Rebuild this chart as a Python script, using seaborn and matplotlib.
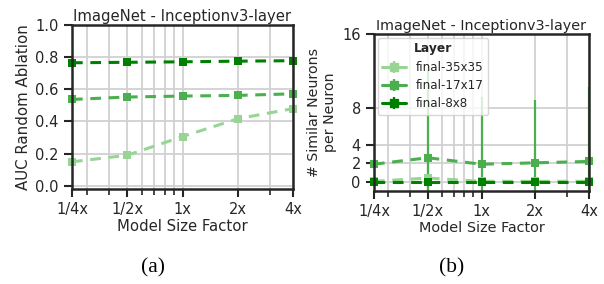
import numpy as np
import pandas as pd
import matplotlib
matplotlib.use("Agg")
import matplotlib.pyplot as plt
import matplotlib.ticker as mticker
import seaborn as sns

# model size factors and labels
sizes = [0.25, 0.5, 1, 2, 4]
size_labels = ["1/4x", "1/2x", "1x", "2x", "4x"]
layers = ["final-35x35", "final-17x17", "final-8x8"]
colors = ["#98d594", "#4bae4f", "#008000"]

# (a) AUC random ablation
auc_35 = [0.149, 0.19, 0.306, 0.417, 0.48]
auc_17 = [0.537, 0.552, 0.558, 0.562, 0.572]
auc_8 = [0.765, 0.768, 0.771, 0.775, 0.778]

# (b) similar neurons per neuron, mean and spread
sim_35 = [0.05, 0.4, 0.05, 0.05, 0.05]
sim_35_err = [0.3, 1.5, 0.3, 0.3, 0.3]
sim_17 = [1.9, 2.6, 1.9, 2.05, 2.2]
sim_17_err = [9.5, 9.5, 7.3, 6.85, 8.1]
sim_8 = [0.0, 0.0, 0.0, 0.0, 0.0]
sim_8_err = [0.05, 0.05, 0.05, 0.05, 0.05]

df_a = pd.DataFrame({
    "size": sizes * 3,
    "value": auc_35 + auc_17 + auc_8,
    "layer": [l for l in layers for _ in sizes],
})
df_b = pd.DataFrame({
    "size": sizes * 3,
    "value": sim_35 + sim_17 + sim_8,
    "err": sim_35_err + sim_17_err + sim_8_err,
    "layer": [l for l in layers for _ in sizes],
})

sns.set_style("whitegrid", {
    "axes.edgecolor": ".15",
    "xtick.bottom": True,
    "ytick.left": True,
    "grid.color": ".82",
})
plt.rcParams.update({
    "font.family": ["DejaVu Sans"],
    "font.size": 10,
    "axes.linewidth": 1.8,
    "xtick.major.size": 6,
    "xtick.minor.size": 4,
    "ytick.major.size": 6,
    "xtick.major.width": 1.5,
    "xtick.minor.width": 1.2,
    "ytick.major.width": 1.5,
    "xtick.labelsize": 10.5,
    "ytick.labelsize": 10.5,
    "grid.linewidth": 1.3,
    "text.color": ".15",
    "axes.labelcolor": ".15",
    "xtick.color": ".15",
    "ytick.color": ".15",
})

fig = plt.figure(figsize=(6.04, 2.84), dpi=100)
ax1 = fig.add_axes([72 / 604, 1 - 189 / 284, 221 / 604, 164 / 284])
ax2 = fig.add_axes([374 / 604, 1 - 191 / 284, 215 / 604, 157 / 284])

pal = dict(zip(layers, colors))


def setup_x(ax, fs):
    ax.set_xscale("log")
    ax.set_xlim(0.25, 4)
    ax.xaxis.set_major_locator(mticker.FixedLocator(sizes))
    ax.xaxis.set_major_formatter(mticker.FixedFormatter(size_labels))
    ax.xaxis.set_minor_locator(mticker.LogLocator(base=10, subs=np.arange(2, 10), numticks=12))
    ax.xaxis.set_minor_formatter(mticker.NullFormatter())
    ax.grid(True, which="both", axis="x")
    ax.grid(True, which="major", axis="y")
    ax.set_xlabel("Model Size Factor", labelpad=1, fontsize=fs)
    ax.set_title("ImageNet - Inceptionv3-layer", fontsize=fs, pad=3)
    for s in ax.spines.values():
        s.set_visible(True)
        s.set_color(".15")


# (a)
sns.lineplot(data=df_a, x="size", y="value", hue="layer", palette=pal,
             marker="s", markersize=6, markeredgewidth=0, linewidth=2.2,
             linestyle="--", dashes=False, legend=False, ax=ax1)
for line in ax1.lines:
    line.set_linestyle((0, (3.5, 2.5)))
    line.set_clip_on(False)
setup_x(ax1, 10.7)
ax1.set_ylim(-0.02, 1.0)
ax1.set_yticks([0.0, 0.2, 0.4, 0.6, 0.8, 1.0])
ax1.set_ylabel("AUC Random Ablation", labelpad=3, fontsize=10.8)

# (b)
for name, c in zip(layers, colors):
    sub = df_b[df_b["layer"] == name]
    ax2.errorbar(sub["size"], sub["value"], yerr=sub["err"], fmt="none",
                 ecolor=c, elinewidth=1.6, zorder=1)
sns.lineplot(data=df_b, x="size", y="value", hue="layer", palette=pal,
             marker="s", markersize=6, markeredgewidth=0, linewidth=2.2,
             linestyle="--", dashes=False, legend=False, ax=ax2)
for line in ax2.lines:
    line.set_linestyle((0, (3.5, 2.5)))
    line.set_clip_on(False)
setup_x(ax2, 10.4)
ax2.set_ylim(-1, 16)
ax2.set_yticks([0, 2, 4, 8, 16])
ax2.set_ylabel("# Similar Neurons\nper Neuron", labelpad=4, linespacing=1.15,
               fontsize=10.2)

# legend handles: solid line, marker and error bar
handles = []
for name, c in zip(layers, colors):
    h = ax2.errorbar([np.nan], [np.nan], yerr=[1], fmt="-s", color=c,
                     ecolor=c, lw=2.2, ms=6, elinewidth=1.6, label=name)
    handles.append(h)
leg = ax2.legend(handles=handles, title="Layer", loc="upper left",
                 fontsize=8.6, title_fontproperties={"weight": "bold", "size": 8.8},
                 frameon=True, framealpha=0.8, borderaxespad=0.3,
                 handlelength=2.0, labelspacing=0.45)

fig.text(153 / 604, 1 - 268 / 284, "(a)", ha="center", va="center",
         family=["Liberation Serif"], fontsize=15.5, color="black")
fig.text(452 / 604, 1 - 268 / 284, "(b)", ha="center", va="center",
         family=["Liberation Serif"], fontsize=15.5, color="black")

fig.savefig("out.png", dpi=100)
